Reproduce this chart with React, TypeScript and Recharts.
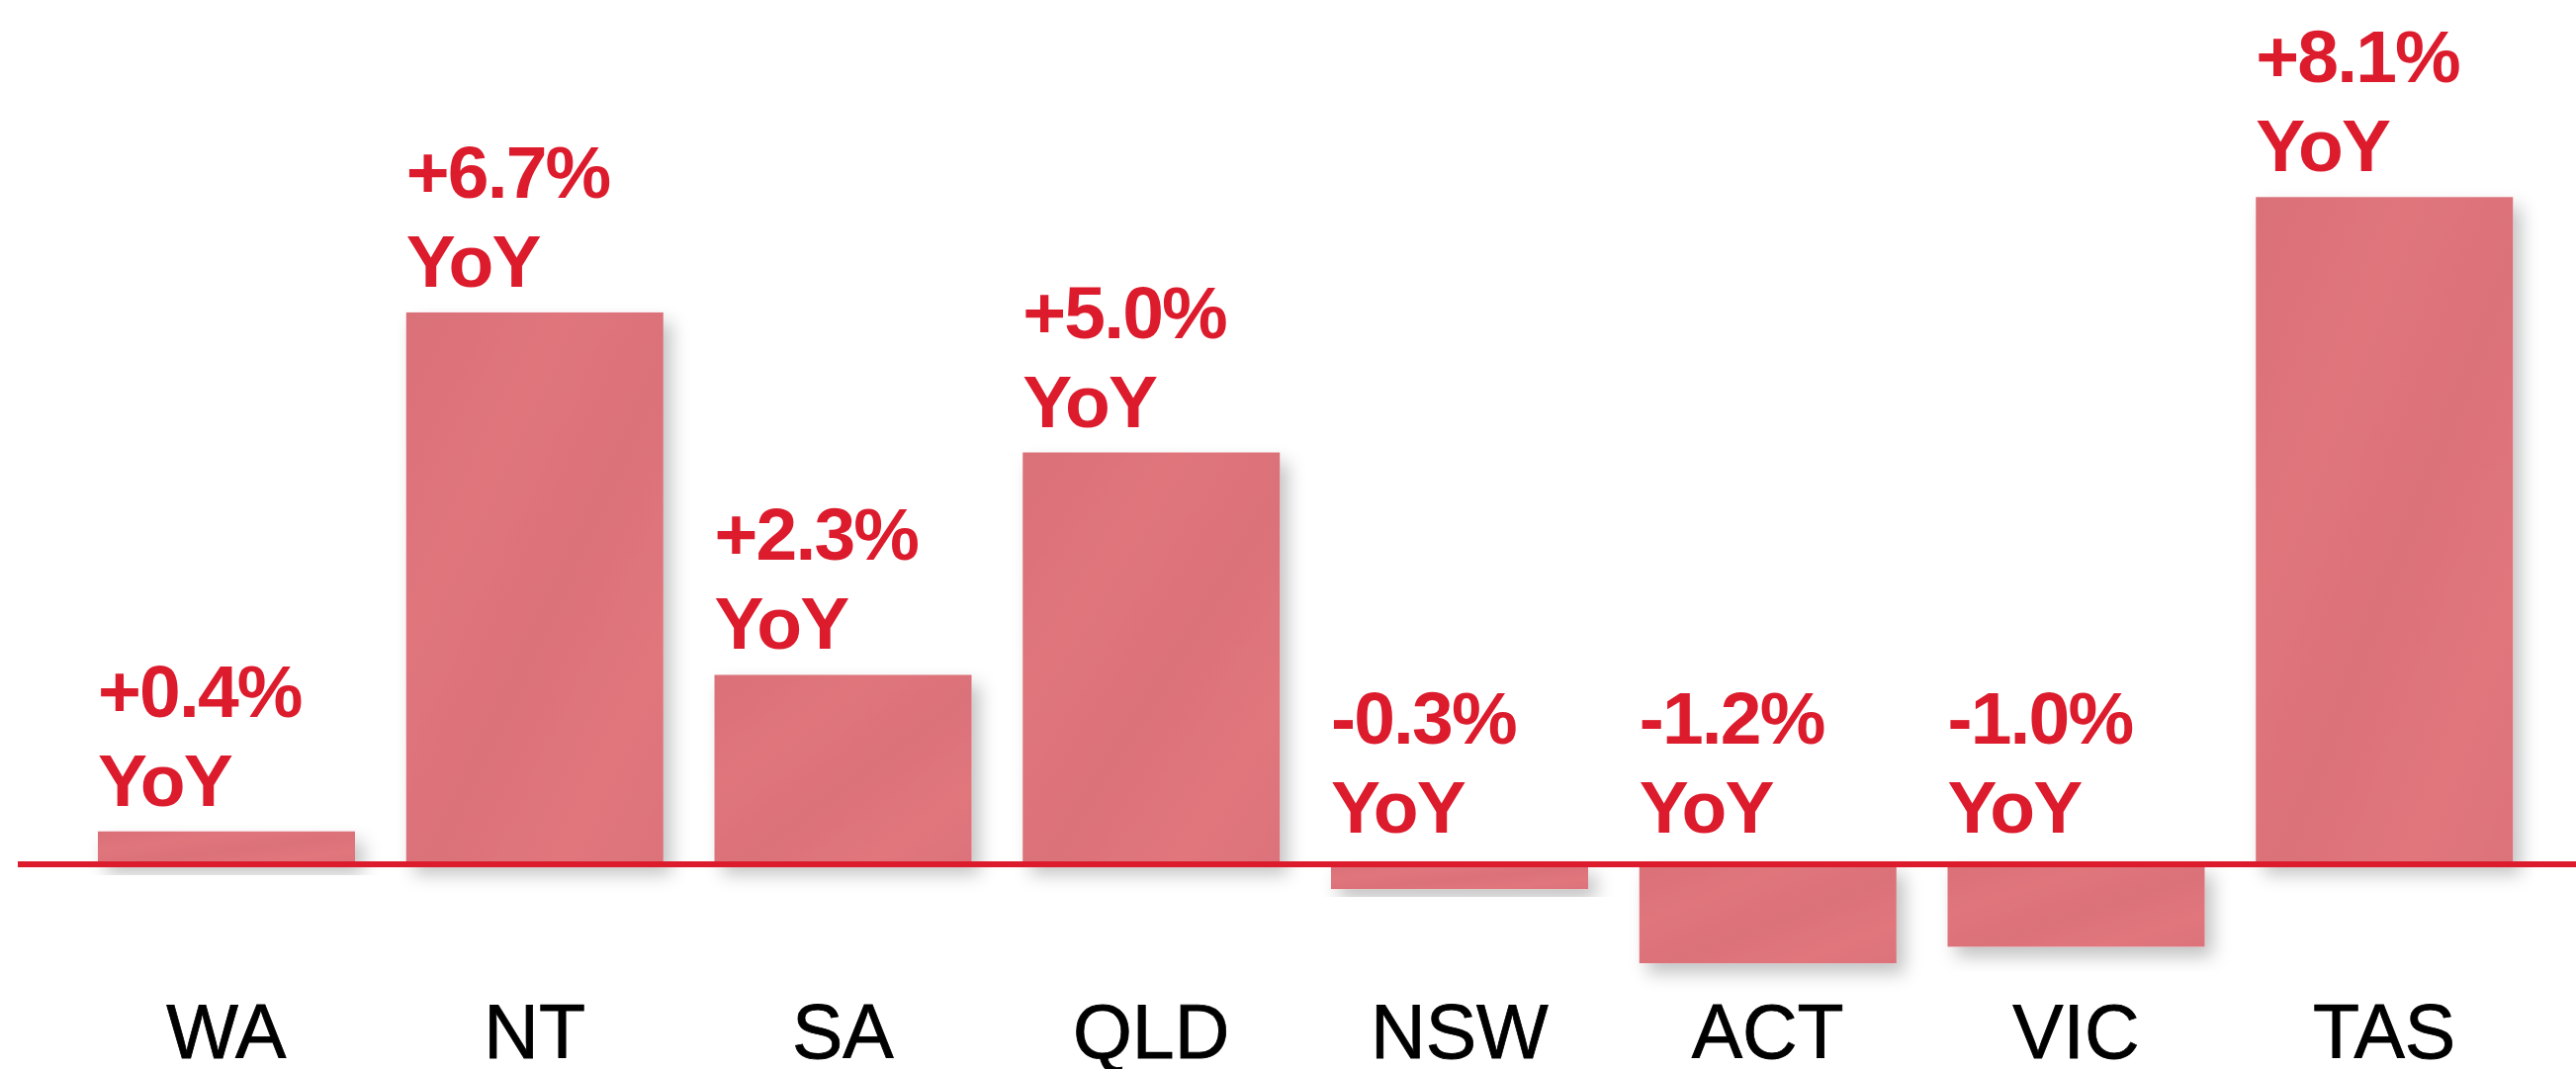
import React from 'react';
import { BarChart, Bar, XAxis, YAxis, ReferenceLine, LabelList } from 'recharts';

const categories = ['WA', 'NT', 'SA', 'QLD', 'NSW', 'ACT', 'VIC', 'TAS'];
const yoyValues = [0.4, 6.7, 2.3, 5.0, -0.3, -1.2, -1.0, 8.1];
const valueLabels = ['+0.4%', '+6.7%', '+2.3%', '+5.0%', '-0.3%', '-1.2%', '-1.0%', '+8.1%'];
const suffixLabel = 'YoY';
const yDomain: [number, number] = [-1.5, 10];

const data = categories.map((c, i) => ({ state: c, yoy: yoyValues[i], label: valueLabels[i] }));

const RED = '#DC1B2C';
const FONT = '"Liberation Sans", Arial, Helvetica, sans-serif';

const BarShape = (props: any) => {
  const x = Number(props.x);
  const y = Number(props.y);
  const w = Number(props.width);
  const h = Number(props.height);
  const top = Math.min(y, y + h);
  const hh = Math.abs(h);
  return (
    <g filter="url(#barShadow)">
      <rect x={x} y={top} width={w} height={hh} fill="url(#barFill)" />
    </g>
  );
};

const renderLabel = (props: any) => {
  const vb = props.viewBox && props.viewBox.x !== undefined ? props.viewBox : props;
  const x = Number(vb.x);
  const y = Number(vb.y);
  const h = Number(vb.height);
  const top = Math.min(y, y + h);
  const val = String(props.value);
  const neg = val.startsWith('-');
  const base2 = neg ? top - 32 : top - 26;
  const base1 = base2 - 90;
  return (
    <text fill={RED} fontSize={75} fontWeight={700} fontFamily={FONT} letterSpacing={-1.8}>
      <tspan x={x} y={base1}>{val}</tspan>
      <tspan x={x} y={base2}>{suffixLabel}</tspan>
    </text>
  );
};

const renderTick = (props: any) => {
  const { x, y, payload } = props;
  return (
    <text x={x} y={Number(y) + 71} textAnchor="middle" fontSize={77} fontFamily={FONT} fill="#000" stroke="#000" strokeWidth={0.8}>
      {payload.value}
    </text>
  );
};

export default function App() {
  return (
    <div style={{ position: 'relative', width: 2605, height: 1081, background: '#fff', overflow: 'hidden' }}>
      <style>{'body{margin:0;overflow:hidden;background:#fff}'}</style>
      <svg width={0} height={0} style={{ position: 'absolute' }}>
        <defs>
          <linearGradient id="barFill" x1="0" y1="0" x2="1" y2="1">
            <stop offset="0%" stopColor="#DA7078" />
            <stop offset="30%" stopColor="#E0757C" />
            <stop offset="55%" stopColor="#DB7179" />
            <stop offset="80%" stopColor="#E1767D" />
            <stop offset="100%" stopColor="#DC727A" />
          </linearGradient>
          <filter id="barShadow" x="-20%" y="-20%" width="150%" height="150%">
            <feDropShadow dx="8" dy="10" stdDeviation="9" floodColor="#000" floodOpacity="0.24" />
          </filter>
        </defs>
      </svg>
      <BarChart
        width={2605}
        height={1081}
        data={data}
        margin={{ top: 41, right: 0, left: 18, bottom: 0 }}
      >
        <XAxis
          dataKey="state"
          axisLine={false}
          tickLine={false}
          tickSize={0}
          tickMargin={0}
          height={82}
          interval={0}
          padding={{ left: 55, right: 38 }}
          tick={renderTick}
        />
        <YAxis hide domain={yDomain} />
        <Bar dataKey="yoy" barSize={260} isAnimationActive={false} shape={BarShape}>
          <LabelList dataKey="label" content={renderLabel} />
        </Bar>
        <ReferenceLine y={0} stroke={RED} strokeWidth={6} ifOverflow="extendDomain" />
      </BarChart>
    </div>
  );
}
